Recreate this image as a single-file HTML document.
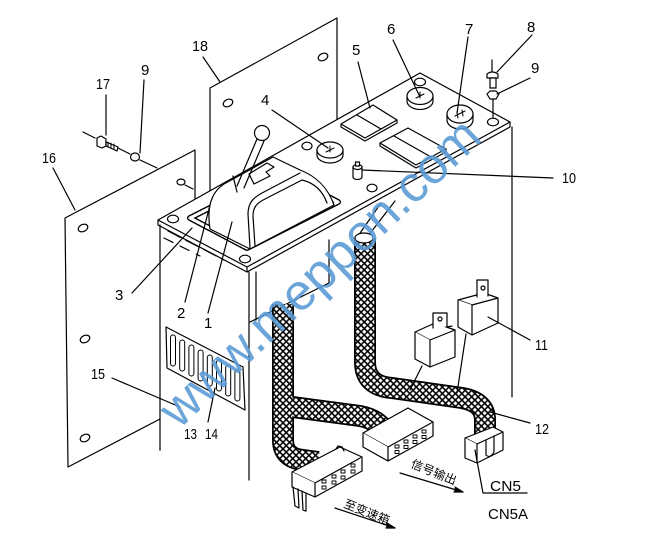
<!DOCTYPE html>
<html><head><meta charset="utf-8">
<style>html,body{margin:0;padding:0;background:#fff}svg{display:block}</style></head>
<body>
<svg width="645" height="557" viewBox="0 0 645 557" xmlns="http://www.w3.org/2000/svg">
<defs>
<pattern id="mesh" width="4.6" height="4.6" patternUnits="userSpaceOnUse" patternTransform="rotate(45)">
<rect width="4.6" height="4.6" fill="#fff"/>
<path d="M0,2.3H4.6M2.3,0V4.6" stroke="#000" stroke-width="1.5"/>
</pattern>
</defs>
<rect width="645" height="557" fill="#fff"/>
<g fill="none" stroke="#000" stroke-width="1.2" stroke-linejoin="round" stroke-linecap="round">
<!-- panel 18 -->
<path d="M210,191 L210,88 L337,18 L337,120"/>
<ellipse cx="228" cy="103" rx="5" ry="3.5" transform="rotate(-25 228 103)"/>
<ellipse cx="323" cy="57" rx="5" ry="3.5" transform="rotate(-25 323 57)"/>
<!-- panel 16 -->
<path d="M195,198 L195,150 L65,218 L68,467 L160,419"/>
<ellipse cx="83" cy="228" rx="5" ry="3.5" transform="rotate(-25 83 228)"/>
<ellipse cx="85" cy="339" rx="5" ry="3.5" transform="rotate(-25 85 339)"/>
<ellipse cx="85" cy="438" rx="5" ry="3.5" transform="rotate(-25 85 438)"/>
<ellipse cx="181" cy="182" rx="4" ry="3"/>
<path d="M185,185 L193,189"/>
<!-- bolt 17 & washer 9 -->
<path d="M83,132 L95,138 M118,148 L130,154 M140,160 L157,168"/>
<path d="M97,138 L101,136 L106,139 L106,146 L102,148 L97,146 Z"/>
<path d="M106,142 L118,147 L117,151 L106,146 Z"/>
<path d="M108,142 L108,147 M111,143 L111,148 M114,144 L114,149" stroke-width="1"/>
<ellipse cx="135" cy="157" rx="4.5" ry="4"/>
<!-- cabinet -->
<path d="M158,220 L420,73 L510,122 L247,267 Z" fill="#fff"/>
<path d="M158,220 L158,225 L247,272 L510,127 L510,122"/>
<path d="M247,267 L247,272"/>
<path d="M160,225 L160,450"/>
<path d="M249,272 L249,480"/>
<path d="M256,272 L256,320"/>
<path d="M512,127 L512,397"/>
<path d="M250,322 L329,283 L329,240"/>
<path d="M168,231 L224,260" stroke-dasharray="14 6"/>
<path d="M164,238 L200,256" stroke-dasharray="10 8"/>
<!-- plate holes -->
<ellipse cx="173" cy="219" rx="5.5" ry="3.8"/>
<ellipse cx="245" cy="259" rx="5.5" ry="3.8"/>
<ellipse cx="420" cy="82" rx="5.5" ry="3.8"/>
<ellipse cx="493" cy="122" rx="5.5" ry="3.8"/>
<ellipse cx="307" cy="146" rx="5" ry="3.8"/>
<ellipse cx="372" cy="188" rx="5" ry="3.8"/>
<!-- gasket -->
<path d="M190,218 L281,172 L338,202 L247,248 Z" stroke-width="6"/>
<path d="M190,218 L281,172 L338,202 L247,248 Z" stroke="#fff" stroke-width="3.2" stroke-dasharray="2.6 2"/>
<!-- cover 1 -->
<path d="M210,229 L250,249 L334,205 C328,188 316,176 300,170 L273,157 L224,184 C210,193 207,210 210,229 Z" fill="#fff"/>
<path d="M250,248 L248,214 C248,203 253,198 262,193 L300,173"/>
<path d="M255,246 L253,216 C253,207 257,203 265,199 L302,180 C315,183 323,192 327,203"/>
<path d="M249,174 L267,163 L274,167 L266,172 L270,176 L254,184 Z" fill="#fff"/>
<path d="M257,139 L237,186 M264,141 L244,188"/>
<circle cx="262" cy="133" r="7.5" fill="#fff"/>
<path d="M233,176 L237,192"/>
<!-- gauges -->
<path d="M317,150 L317,155 A13,8 0 0 0 343,155 L343,150" fill="#fff"/>
<ellipse cx="330" cy="150" rx="13" ry="8" fill="#fff"/>
<path d="M326,152 L334,148 M330,146 L330,152" stroke-width="1"/>
<path d="M407,96 L407,101 A13,8.5 0 0 0 433,101 L433,96" fill="#fff"/>
<ellipse cx="420" cy="96" rx="13" ry="8.5" fill="#fff"/>
<path d="M416,98 L424,94 M420,92 L420,98" stroke-width="1"/>
<path d="M447,114 L447,120 A13,9 0 0 0 473,120 L473,114" fill="#fff"/>
<ellipse cx="460" cy="114" rx="13" ry="9" fill="#fff"/>
<path d="M455,116 L465,111 M457,112 L458,118 M462,110 L463,116" stroke-width="1"/>
<!-- switches -->
<path d="M341,124 L341,127 L365,141 L397,123 L397,120" fill="#fff"/>
<path d="M341,124 L373,105 L397,120 L365,138 Z" fill="#fff"/>
<path d="M357,115 L381,129"/>
<path d="M380,143 L380,146 L416,168 L446,152 L446,149" fill="#fff"/>
<path d="M380,143 L408,128 L446,149 L416,165 Z" fill="#fff"/>
<path d="M394,136 L431,157"/>
<!-- knob 10 -->
<path d="M353,167 L353,177 A4.5,2.5 0 0 0 362,177 L362,167" fill="#fff"/>
<ellipse cx="357.5" cy="167" rx="4.5" ry="2.5" fill="#fff"/>
<rect x="355.5" y="162" width="4" height="4" fill="#fff"/>
<!-- bolt 8 / nut 9 right -->
<path d="M492,60 L492,72 M493,100 L493,117"/>
<path d="M487,74 Q492,70 498,74 L498,78 L487,78 Z" fill="#fff"/>
<rect x="490" y="78" width="6" height="10" fill="#fff"/>
<path d="M487,94 L490,91 L496,91 L499,94 L496,99 L490,99 Z" fill="#fff"/>
<!-- grommet lines -->
<path d="M358,236 L381,203 M368,236 L395,201"/>
<!-- fuse panel -->
<path d="M166,327 L243,367 L245,410 L167,368 Z"/>
<g stroke-width="1">
<rect x="170.5" y="335" width="5" height="31" rx="2.5"/>
<rect x="179.7" y="340" width="5" height="31" rx="2.5"/>
<rect x="188.9" y="345" width="5" height="31" rx="2.5"/>
<rect x="198.1" y="350" width="5" height="31" rx="2.5"/>
<rect x="207.3" y="355" width="5" height="31" rx="2.5"/>
<rect x="216.5" y="360" width="5" height="31" rx="2.5"/>
<rect x="225.7" y="365" width="5" height="31" rx="2.5"/>
<rect x="234.9" y="370" width="5" height="31" rx="2.5"/>
</g>
</g>
<!-- harness -->
<g fill="none" stroke-linecap="butt" stroke-linejoin="round">
<path d="M283,304 L283,440 Q283,458 303,460 L318,462" stroke="#000" stroke-width="22"/>
<path d="M285,406 L360,416 Q376,419 384,430" stroke="#000" stroke-width="22"/>
<path d="M365,238 L365,362 Q365,386 392,388 L462,398 Q485,402 485,420 L485,434" stroke="#000" stroke-width="22"/>
<path d="M283,304 L283,440 Q283,458 303,460 L318,462" stroke="url(#mesh)" stroke-width="18.5"/>
<path d="M285,406 L360,416 Q376,419 384,430" stroke="url(#mesh)" stroke-width="18.5"/>
<path d="M365,238 L365,362 Q365,386 392,388 L462,398 Q485,402 485,420 L485,434" stroke="url(#mesh)" stroke-width="18.5"/>
</g>
<g fill="none" stroke="#000" stroke-width="1.2" stroke-linejoin="round" stroke-linecap="round">
<ellipse cx="364" cy="238" rx="9" ry="5" fill="#fff"/>
<!-- relays 11 -->
<path d="M415,332 L435,323 L455,330 L430,340 Z" fill="#fff"/>
<path d="M415,332 L415,359 L430,367 L430,340 M430,367 L455,357 L455,330" fill="#fff"/>
<path d="M433,328 L433,313 L447,313 L447,327 L452,326" fill="#fff"/>
<circle cx="440" cy="319" r="2"/>
<path d="M458,300 L484,293 L498,298 L472,305 Z" fill="#fff"/>
<path d="M458,300 L458,327 L472,335 L472,305 M472,335 L498,323 L498,298" fill="#fff"/>
<path d="M477,297 L477,280 L488,280 L488,296" fill="#fff"/>
<circle cx="483" cy="288" r="2"/>
<path d="M422,366 L410,390 M466,334 L457,393"/>
<!-- signal connector -->
<path d="M363,433 L408,408 L433,422 L388,447 Z" fill="#fff"/>
<path d="M363,433 L363,447 L388,461 L388,447 M388,461 L433,436 L433,422" fill="#fff"/>
<g stroke-width="0.9">
<rect x="395" y="445" width="4" height="3"/><rect x="404" y="440" width="4" height="3"/><rect x="413" y="435" width="4" height="3"/><rect x="422" y="430" width="4" height="3"/>
<rect x="395" y="450.5" width="4" height="3"/><rect x="404" y="445.5" width="4" height="3"/><rect x="413" y="440.5" width="4" height="3"/><rect x="422" y="435.5" width="4" height="3"/>
</g>
<!-- transmission connector -->
<path d="M292,472 L340,447 L362,457 L315,483 Z" fill="#fff"/>
<path d="M292,472 L292,487 L315,497 L315,483 M315,497 L362,471 L362,457" fill="#fff"/>
<path d="M336,449 L338,446 L342,447 L344,451" />
<path d="M293,487 L295,506 L299,508 L298,489 M302,491 L303,510 L306,511 L306,493"/>
<g stroke-width="0.9">
<rect x="322" y="480" width="4" height="3"/><rect x="332" y="475" width="4" height="3"/><rect x="341" y="470" width="4" height="3"/><rect x="351" y="464" width="4" height="3"/>
<rect x="322" y="486" width="4" height="3"/><rect x="332" y="481" width="4" height="3"/><rect x="341" y="476" width="4" height="3"/><rect x="351" y="470" width="4" height="3"/>
</g>
<!-- CN5 -->
<path d="M465,438 L477,444 L503,432 L493,427 Z" fill="#fff"/>
<path d="M465,438 L465,458 L477,463 L477,444 M477,463 L503,450 L503,432" fill="#fff"/>
<path d="M486,440 L486,455 Q490,459 494,452 L494,436"/>
<path d="M475,450 L483,493 L527,493"/>
<!-- leaders -->
<path d="M203,57 L220,82"/>
<path d="M106,95 L106,135"/>
<path d="M144,80 L140,153"/>
<path d="M53,168 L75,210"/>
<path d="M272,110 L328,148"/>
<path d="M358,62 L370,108"/>
<path d="M393,40 L420,97"/>
<path d="M468,37 L457,113"/>
<path d="M532,35 L497,72"/>
<path d="M530,78 L497,94"/>
<path d="M362,170 L553,178"/>
<path d="M132,293 L192,228"/>
<path d="M185,302 L210,205"/>
<path d="M208,313 L232,222"/>
<path d="M112,378 L180,407"/>
<path d="M208,422 L215,388"/>
<path d="M160,448 L160,450"/>
<path d="M488,317 L530,340"/>
<path d="M490,412 L530,423"/>
<!-- arrows -->
<path d="M400,473 L463,492"/>
<path d="M455,487 L463,492 L454,492" fill="#000"/>
<path d="M335,508 L395,528"/>
<path d="M387,523 L395,528 L386,528" fill="#000"/>
</g>
<!-- labels -->
<g font-family="'Liberation Sans', sans-serif" font-size="15" fill="#000">
<text x="192" y="51" textLength="16" lengthAdjust="spacingAndGlyphs">18</text>
<text x="96" y="89" textLength="14" lengthAdjust="spacingAndGlyphs">17</text>
<text x="141" y="75">9</text>
<text x="42" y="163" textLength="14" lengthAdjust="spacingAndGlyphs">16</text>
<text x="261" y="105">4</text>
<text x="352" y="55">5</text>
<text x="387" y="34">6</text>
<text x="465" y="34">7</text>
<text x="527" y="32">8</text>
<text x="531" y="73">9</text>
<text x="562" y="183" textLength="14" lengthAdjust="spacingAndGlyphs">10</text>
<text x="115" y="300">3</text>
<text x="177" y="318">2</text>
<text x="204" y="328">1</text>
<text x="91" y="379" textLength="14" lengthAdjust="spacingAndGlyphs">15</text>
<text x="184" y="439" textLength="13" lengthAdjust="spacingAndGlyphs">13</text>
<text x="205" y="439" textLength="13" lengthAdjust="spacingAndGlyphs">14</text>
<text x="535" y="350" textLength="13" lengthAdjust="spacingAndGlyphs">11</text>
<text x="535" y="434" textLength="14" lengthAdjust="spacingAndGlyphs">12</text>
<text x="490" y="491" textLength="31" lengthAdjust="spacingAndGlyphs">CN5</text>
<text x="488" y="519" textLength="40" lengthAdjust="spacingAndGlyphs">CN5A</text>
</g>
<g font-family="'Liberation Sans','Noto Sans CJK SC',sans-serif" font-size="12" fill="#000">
<text x="410" y="467" transform="rotate(22 410 467)">信号输出</text>
<text x="343" y="507" transform="rotate(22 343 507)">至变速箱</text>
</g>
<!-- watermark -->
<text x="179" y="430" transform="rotate(-43.6 179 430)" font-family="'Liberation Sans', sans-serif" font-size="51" fill="#5b9bd5" fill-opacity="0.9" textLength="421" lengthAdjust="spacingAndGlyphs">www.meppon.com</text>
</svg>
</body></html>
